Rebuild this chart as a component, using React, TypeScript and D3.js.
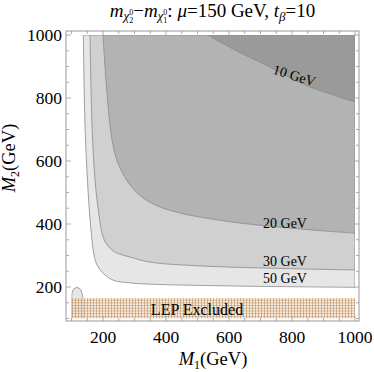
import React from 'react';
import { scaleLinear, line, curveCatmullRom, range } from 'd3';

// contour boundaries, as [M1, M2] pairs in GeV
const contour50: [number, number][] = [
  [137.5, 1000], [142.9, 714], [152.4, 508], [161.9, 381], [171.4, 302], [181, 270],
  [200, 244], [231.7, 222], [285.7, 213], [381, 208], [508, 205], [698, 202], [1000, 199],
];
const contour30: [number, number][] = [
  [158.7, 1000], [165.1, 714], [174.6, 540], [187.3, 429], [200, 359], [215.9, 330],
  [238.1, 311], [285.7, 295], [349.2, 279], [508, 267], [762, 259], [1000, 254],
];
const contour20: [number, number][] = [
  [200, 1000], [209.5, 857], [222.2, 714], [234.9, 635], [254, 578], [285.7, 524],
  [327, 483], [381, 454], [444.4, 435], [508, 422], [635, 403], [762, 390], [889, 379], [1000, 371],
];
const contour10: [number, number][] = [
  [533, 1000], [619, 952], [730, 898], [794, 863.5], [857, 835], [921, 813], [1000, 787],
];
const lepBump: [number, number][] = [
  [100, 100], [100, 160], [101.6, 181], [107.9, 194], [117.5, 198.4], [127, 194],
  [133.3, 181], [136.5, 158], [138, 100],
];
const lepBand = { m1: [100, 1000], m2: [100, 165] };

const fills = ['#e6e6e6', '#d0d0d0', '#b3b3b3', '#9a9a9a'];
const contours = [contour50, contour30, contour20, contour10];

const majorTicks = [200, 400, 600, 800, 1000];
const minorTicks = range(100, 1001, 50);

const serif = "'Liberation Serif', 'DejaVu Serif', serif";

export default function App() {
  const W = 374, H = 372;
  const x = scaleLinear().domain([100, 1000]).range([71.5, 355]);
  const y = scaleLinear().domain([100, 1000]).range([318.5, 35]);
  const frame = { l: 66, r: 359, t: 31, b: 321 };

  const curve = line<[number, number]>()
    .x(d => x(d[0]))
    .y(d => y(d[1]))
    .curve(curveCatmullRom.alpha(0.5));

  const region = (pts: [number, number][]) =>
    `${curve(pts)}L${x(1000)},${y(1000)}Z`;

  const tickLen = (v: number) => (v % 200 === 0 ? 5 : 3);

  return (
    <svg width={W} height={H} style={{ position: 'absolute', left: 0, top: 0, fontFamily: serif }}>
      <defs>
        <pattern id="hatch" width={3} height={2.7} patternUnits="userSpaceOnUse">
          <rect width={3} height={2.7} fill="#f6eadc" />
          <line x1={0.5} y1={0} x2={0.5} y2={2.7} stroke="#c08d5c" strokeWidth={0.8} />
          <line x1={0} y1={0.5} x2={3} y2={0.5} stroke="#c08d5c" strokeWidth={0.8} />
        </pattern>
        <clipPath id="plot">
          <rect x={x(100)} y={y(1000)} width={x(1000) - x(100)} height={y(100) - y(1000)} />
        </clipPath>
      </defs>
      <rect width={W} height={H} fill="#fff" />

      <g clipPath="url(#plot)">
        {contours.map((c, i) => (
          <path key={i} d={region(c)} fill={fills[i]} stroke="#8a8a8a" strokeWidth={0.8} />
        ))}
        <path d={curve(lepBump) ?? ''} fill={fills[0]} stroke="#8a8a8a" strokeWidth={0.8} />
        <rect x={x(lepBand.m1[0])} y={y(lepBand.m2[1])}
          width={x(lepBand.m1[1]) - x(lepBand.m1[0])}
          height={y(lepBand.m2[0]) - y(lepBand.m2[1])}
          fill="url(#hatch)" opacity={0.8} />
      </g>

      {/* contour labels */}
      <text x={293} y={80} fontSize={14} textAnchor="middle" transform="rotate(17 293 80)">10 GeV</text>
      <text x={285} y={228} fontSize={14} textAnchor="middle">20 GeV</text>
      <text x={285} y={266} fontSize={14} textAnchor="middle">30 GeV</text>
      <text x={285} y={283} fontSize={14} textAnchor="middle">50 GeV</text>
      <text x={197} y={315} fontSize={16} textAnchor="middle">LEP Excluded</text>

      {/* frame */}
      <rect x={frame.l} y={frame.t} width={frame.r - frame.l} height={frame.b - frame.t}
        fill="none" stroke="#999" strokeWidth={1} />
      {minorTicks.map(v => (
        <g key={v} stroke="#999" strokeWidth={0.8}>
          <line x1={x(v)} x2={x(v)} y1={frame.b} y2={frame.b - tickLen(v)} />
          <line x1={x(v)} x2={x(v)} y1={frame.t} y2={frame.t + tickLen(v)} />
          <line y1={y(v)} y2={y(v)} x1={frame.l} x2={frame.l + tickLen(v)} />
          <line y1={y(v)} y2={y(v)} x1={frame.r} x2={frame.r - tickLen(v)} />
        </g>
      ))}
      {majorTicks.map(v => (
        <g key={v} fontSize={17.5} fill="#000">
          <text x={x(v)} y={343} textAnchor="middle">{v}</text>
          <text x={62} y={y(v) + 6} textAnchor="end">{v}</text>
        </g>
      ))}

      {/* axis labels */}
      <text x={213} y={365} fontSize={18.5} textAnchor="middle">
        <tspan fontStyle="italic">M</tspan>
        <tspan fontSize={12} dy={4}>1</tspan>
        <tspan dy={-4}>(GeV)</tspan>
      </text>
      <text transform="translate(15,158) rotate(-90)" fontSize={18.5} textAnchor="middle">
        <tspan fontStyle="italic">M</tspan>
        <tspan fontSize={12} dy={4}>2</tspan>
        <tspan dy={-4}>(GeV)</tspan>
      </text>

      {/* title */}
      <text x={212.5} y={17} fontSize={19} textAnchor="middle">
        <tspan fontStyle="italic">m</tspan>
        <tspan fontStyle="italic" fontSize={13} dy={3}>χ</tspan>
        <tspan fontSize={8} dy={3}>2</tspan>
        <tspan fontSize={8} dx={-4} dy={-8}>0</tspan>
        <tspan dy={2}>−</tspan>
        <tspan fontStyle="italic">m</tspan>
        <tspan fontStyle="italic" fontSize={13} dy={3}>χ</tspan>
        <tspan fontSize={8} dy={3}>1</tspan>
        <tspan fontSize={8} dx={-4} dy={-8}>0</tspan>
        <tspan dy={2}>: </tspan>
        <tspan fontStyle="italic">μ</tspan>
        <tspan>=150 GeV, </tspan>
        <tspan fontStyle="italic">t</tspan>
        <tspan fontStyle="italic" fontSize={13} dy={4}>β</tspan>
        <tspan dy={-4}>=10</tspan>
      </text>
    </svg>
  );
}
